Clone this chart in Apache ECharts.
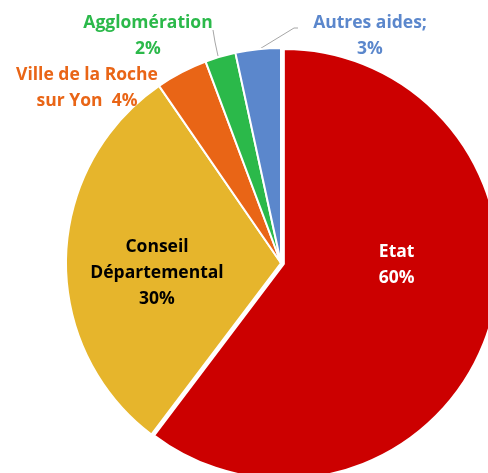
<!DOCTYPE html>
<html><head><meta charset="utf-8">
<script src="https://cdn.jsdelivr.net/npm/echarts@6/dist/echarts.min.js"></script>
<style>html,body{margin:0;padding:0;background:#fff}#c{width:488px;height:473px}</style>
</head><body><div id="c"></div>
<script>
var categories = ['Etat', 'Conseil Départemental', 'Ville de la Roche sur Yon', 'Agglomération', 'Autres aides'];
var values = [60.3, 30.1, 3.9, 2.3, 3.4];
var colors = ['#CC0000', '#E6B52C', '#E96516', '#2BB94A', '#5B87CC'];
var labelColors = ['#FFFFFF', '#000000', '#E96516', '#2BB94A', '#5B87CC'];

// label text templates ({p} = rounded percent)
var labelTexts = ['{t|Etat}\n{t|{p}%}\n{s| }', 'Conseil\nDépartemental\n{p}%', 'Ville de la Roche\nsur Yon  {p}%', 'Agglomération\n{p}%', 'Autres aides;\n{p}%'];
// label layout (positions of label centres, and leader lines)
var labelPos = [null, [157, 273], [87, 88], [148, 36], [370, 36]];
var labelPadding = [[0, 0, 0, 16], 0, 0, 0, 0];
var labelPlace = ['inside', 'inside', 'outside', 'outside', 'outside'];
var leaderLines = [null, null, null, [[218, 56], [215, 42], [213, 30]], [[258, 50], [294, 28], [298, 28]]];

var chart = echarts.init(document.getElementById('c'), null, {renderer: 'canvas'});
var data = categories.map(function (c, i) {
  return {
    name: c,
    value: values[i],
    selected: i === 0,
    itemStyle: {color: colors[i]},
    label: {color: labelColors[i], position: labelPlace[i], padding: labelPadding[i]},
    labelLine: {show: !!leaderLines[i]}
  };
});
chart.setOption({
  animation: false,
  series: [{
    type: 'pie',
    center: [281, 263],
    radius: 215,
    startAngle: 90,
    clockwise: true,
    selectedMode: 'single',
    selectedOffset: 3,
    avoidLabelOverlap: false,
    data: data,
    itemStyle: {borderColor: '#fff', borderWidth: 2},
    select: {itemStyle: {borderColor: '#fff', borderWidth: 2}},
    emphasis: {disabled: true},
    label: {
      show: true,
      fontFamily: 'Open Sans',
      fontWeight: 'bold',
      fontSize: 17.5,
      lineHeight: 26,
      align: 'center',
      rich: {
        t: {fontFamily: 'Open Sans', fontWeight: 'bold', fontSize: 17.5, lineHeight: 26, color: '#FFFFFF'},
        s: {fontSize: 10, lineHeight: 68, height: 68}
      },
      formatter: function (p) {
        return labelTexts[p.dataIndex].replace('{p}', Math.round(p.percent));
      }
    },
    labelLine: {show: true, lineStyle: {color: '#A6A6A6', width: 1}},
    labelLayout: function (p) {
      var i = p.dataIndex;
      if (!labelPos[i]) return {};
      var r = {x: labelPos[i][0], y: labelPos[i][1], align: 'center', verticalAlign: 'middle'};
      if (leaderLines[i]) r.labelLinePoints = leaderLines[i];
      return r;
    }
  }]
});
</script></body></html>
